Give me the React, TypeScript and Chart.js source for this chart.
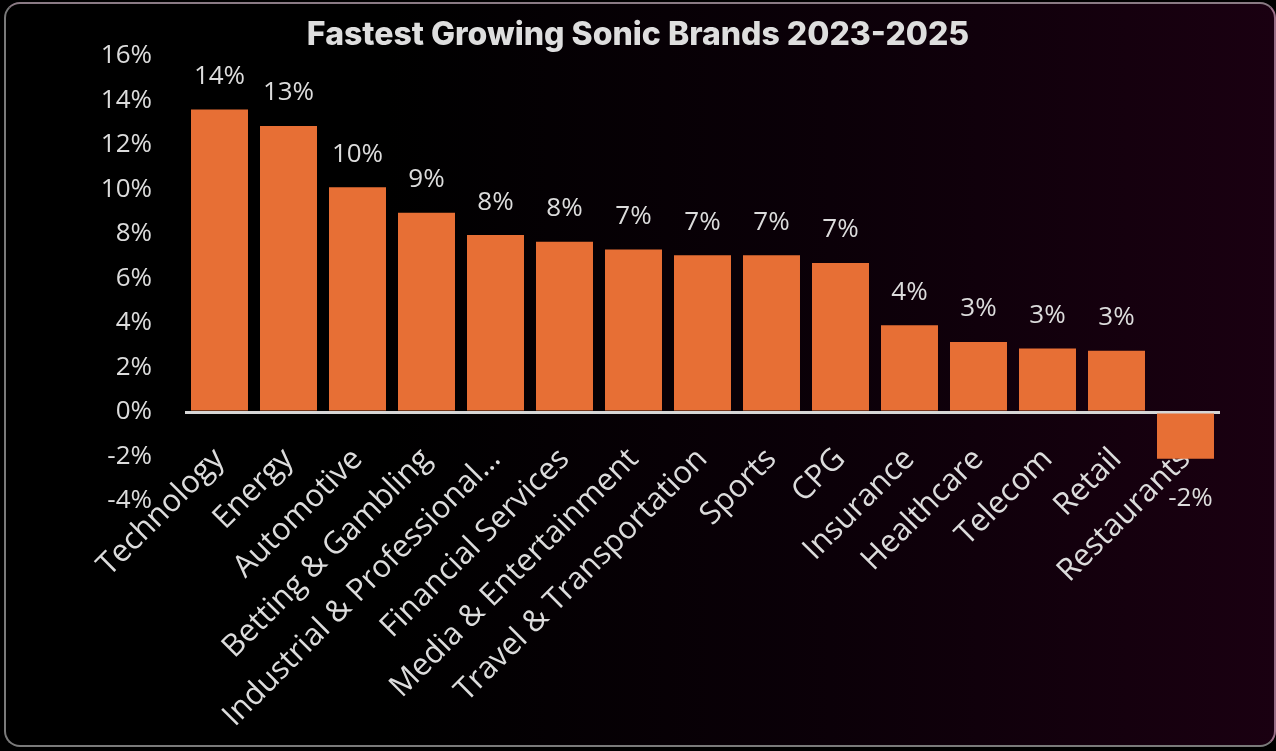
import React, { useEffect, useRef } from "react";
import { Chart, registerables } from "chart.js";

Chart.register(...registerables);

const categories = [
  "Technology",
  "Energy",
  "Automotive",
  "Betting & Gambling",
  "Industrial & Professional…",
  "Financial Services",
  "Media & Entertainment",
  "Travel & Transportation",
  "Sports",
  "CPG",
  "Insurance",
  "Healthcare",
  "Telecom",
  "Retail",
  "Restaurants",
];
const growth = [13.6, 12.85, 10.1, 8.95, 7.95, 7.65, 7.3, 7.05, 7.05, 6.7, 3.9, 3.15, 2.85, 2.75, -2.1];
const yMin = -4;
const yMax = 16;
const yStep = 2;
const titleText = "Fastest Growing Sonic Brands 2023-2025";

const TEXT = "#dcdcdc";
const FONT = "'Open Sans', 'DejaVu Sans', sans-serif";

const valueLabelPlugin = {
  id: "valueLabels",
  afterDatasetsDraw(chart: any) {
    const { ctx } = chart;
    const meta = chart.getDatasetMeta(0);
    ctx.save();
    ctx.font = `400 26px ${FONT}`;
    ctx.fillStyle = TEXT;
    ctx.textAlign = "center";
    ctx.textBaseline = "middle";
    meta.data.forEach((bar: any, i: number) => {
      const v = growth[i];
      const y = v >= 0 ? bar.y - 33 : bar.y + 40;
      ctx.fillText(`${Math.round(v)}%`, bar.x + (v < 0 ? 5 : 0), y);
    });
    ctx.restore();
  },
};

export default function App() {
  const ref = useRef<HTMLCanvasElement | null>(null);

  useEffect(() => {
    if (!ref.current) return;
    const chart = new Chart(ref.current, {
      type: "bar",
      data: {
        labels: categories,
        datasets: [
          {
            data: growth,
            backgroundColor: "#E76F35",
            borderWidth: 0,
            barPercentage: 0.826,
            categoryPercentage: 1,
            yAxisID: "y",
          },
        ],
      },
      options: {
        responsive: false,
        animation: false,
        layout: { padding: { left: 0, right: 0, top: 0, bottom: 250 } },
        plugins: {
          legend: { display: false },
          tooltip: { enabled: false },
          title: {
            display: true,
            text: titleText,
            color: "#dedede",
            font: { family: "Inter, 'Open Sans', sans-serif", size: 32, weight: "800", lineHeight: 1 },
            padding: { top: 19, bottom: 5 },
          },
        },
        scales: {
          x: {
            position: { y: 0 } as any,
            grid: { display: false, drawTicks: false },
            border: { display: false },
            ticks: {
              color: TEXT,
              font: { family: FONT, size: 31 },
              minRotation: 45,
              maxRotation: 45,
              autoSkip: false,
              padding: 29,
            },
          },
          y: {
            min: yMin,
            max: yMax,
            afterFit(scale: any) {
              scale.width = 185;
            },
            grid: {
              drawTicks: false,
              color: (c: any) => (c.tick && c.tick.value === 0 ? "#d6d6d6" : "rgba(0,0,0,0)"),
              lineWidth: (c: any) => (c.tick && c.tick.value === 0 ? 3 : 0),
            },
            border: { display: false },
            ticks: {
              stepSize: yStep,
              color: TEXT,
              font: { family: FONT, size: 26 },
              padding: 33,
              callback: (v: any) => `${v}%`,
            },
          },
          yRight: {
            position: "right",
            min: yMin,
            max: yMax,
            afterFit(scale: any) {
              scale.width = 56;
            },
            grid: { display: false, drawTicks: false },
            border: { display: false },
            ticks: { display: false },
          },
        },
      },
      plugins: [valueLabelPlugin],
    });
    return () => chart.destroy();
  }, []);

  return (
    <div
      style={{
        position: "fixed",
        left: 0,
        top: 0,
        width: 1276,
        height: 751,
        background: "#000",
        overflow: "hidden",
      }}
    >
      <div
        style={{
          position: "absolute",
          left: 4,
          top: 2,
          width: 1272,
          height: 745,
          boxSizing: "border-box",
          border: "2px solid #7a7a7a",
          borderRightColor: "#9a7088",
          borderTopColor: "#8a7a84",
          borderRadius: 16,
          background: "linear-gradient(to right, #000000 0%, #000000 30%, #0b0008 65%, #1a0011 100%)",
        }}
      />
      <canvas ref={ref} width={1276} height={751} style={{ position: "absolute", left: 0, top: 0 }} />
    </div>
  );
}
